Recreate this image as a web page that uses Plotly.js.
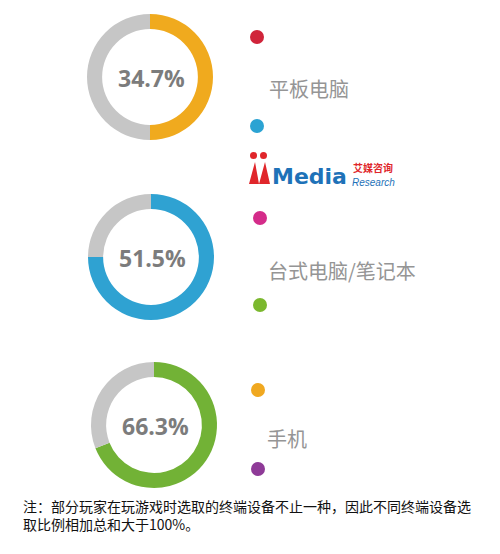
<!DOCTYPE html>
<html><head><meta charset="utf-8">
<script src="https://cdn.plot.ly/plotly-3.0.1.min.js"></script>
<style>html,body{margin:0;padding:0;background:#fff}#chart{width:500px;height:554px}</style>
</head><body><div id="chart"></div>
<script>
// Data
const devices = ["平板电脑", "台式电脑/笔记本", "手机"];
const shareLabels = [34.7, 51.5, 66.3];        // percentage printed in each ring
const ringFill = [50, 75, 69];                 // coloured arc share as drawn in the picture (%)
const ringColors = ["#F0AA1E", "#2FA2D2", "#72B236"];
const restColor = "#C6C6C6";
const dotColors = [["#D0243A", "#2BA3D3"], ["#D42C8A", "#7BB82E"], ["#F0A820", "#8E3A97"]];
const note = "注：部分玩家在玩游戏时选取的终端设备不止一种，因此不同终端设备选<br>取比例相加总和大于100%。";

const W = 500, H = 554;
const fx = x => x / W, fy = y => 1 - y / H;

// layout geometry (pixels)
const centers = [[150, 77], [151, 257], [154, 425]];
const R = 63;
const labelPos = [[267, 88], [266, 270], [265, 438]];
const dotPos = [[[257, 37], [257, 126]], [[260, 218], [260, 305]], [[258, 390], [258, 469]]];

const data = [];
const annotations = [];
const shapes = [];
devices.forEach((d, i) => {
  const [cx, cy] = centers[i];
  data.push({
    type: "pie",
    values: [ringFill[i], 100 - ringFill[i]],
    labels: [d, "其他"],
    marker: { colors: [ringColors[i], restColor], line: { width: 0 } },
    hole: 0.76,
    sort: false,
    direction: "clockwise",
    rotation: 0,
    textinfo: "none",
    hoverinfo: "skip",
    showlegend: false,
    domain: { x: [fx(cx - R), fx(cx + R)], y: [fy(cy + R), fy(cy - R)] }
  });
  annotations.push({
    xref: "paper", yref: "paper", x: fx(cx + 1), y: fy(cy + 1), xanchor: "center", yanchor: "middle",
    text: "<b>" + shareLabels[i].toFixed(1) + "%</b>", showarrow: false,
    font: { family: "Open Sans, sans-serif", size: 23, color: "#7C7C7C" }
  });
  annotations.push({
    xref: "paper", yref: "paper", x: fx(labelPos[i][0]), y: fy(labelPos[i][1]), xanchor: "left", yanchor: "middle",
    text: d, showarrow: false,
    font: { family: "Noto Sans CJK SC, sans-serif", size: 20, color: "#959595" }
  });
  dotPos[i].forEach((p, k) => {
    shapes.push({
      type: "circle", xref: "paper", yref: "paper",
      x0: fx(p[0] - 7), x1: fx(p[0] + 7), y0: fy(p[1] + 7), y1: fy(p[1] - 7),
      fillcolor: dotColors[i][k], line: { width: 0 }
    });
  });
});

// logo
shapes.push({ type: "circle", xref: "paper", yref: "paper", x0: fx(250), x1: fx(257), y0: fy(159), y1: fy(152), fillcolor: "#E0262B", line: { width: 0 } });
shapes.push({ type: "circle", xref: "paper", yref: "paper", x0: fx(260), x1: fx(267), y0: fy(159), y1: fy(152), fillcolor: "#E0262B", line: { width: 0 } });
const tri = (a, b, c) => `M ${fx(a[0])} ${fy(a[1])} L ${fx(b[0])} ${fy(b[1])} L ${fx(c[0])} ${fy(c[1])} Z`;
shapes.push({ type: "path", xref: "paper", yref: "paper", path: tri([249, 184], [255, 162], [259, 184]), fillcolor: "#E0262B", line: { width: 0 } });
shapes.push({ type: "path", xref: "paper", yref: "paper", path: tri([259, 184], [265, 162], [270, 184]), fillcolor: "#E0262B", line: { width: 0 } });
annotations.push({ xref: "paper", yref: "paper", x: fx(270), y: fy(176), xanchor: "left", yanchor: "middle", showarrow: false,
  text: "<b>Media</b>", font: { family: "DejaVu Sans, sans-serif", size: 22, color: "#1E72B8" } });
annotations.push({ xref: "paper", yref: "paper", x: fx(351), y: fy(167), xanchor: "left", yanchor: "middle", showarrow: false,
  text: "<b>艾媒咨询</b>", font: { family: "Noto Sans CJK SC, sans-serif", size: 10, color: "#E0262B" } });
annotations.push({ xref: "paper", yref: "paper", x: fx(350), y: fy(182), xanchor: "left", yanchor: "middle", showarrow: false,
  text: "<i>Research</i>", font: { family: "Liberation Sans, sans-serif", size: 10, color: "#1E72B8" } });

// footnote
annotations.push({ xref: "paper", yref: "paper", x: fx(21), y: fy(515), xanchor: "left", yanchor: "middle", align: "left", showarrow: false,
  text: note, font: { family: "Noto Sans CJK SC, sans-serif", size: 14, color: "#111111" } });

Plotly.newPlot("chart", data, {
  width: W, height: H, margin: { l: 0, r: 0, t: 0, b: 0 },
  paper_bgcolor: "#ffffff", plot_bgcolor: "#ffffff",
  annotations, shapes, showlegend: false
}, { displayModeBar: false, staticPlot: true });
</script></body></html>
